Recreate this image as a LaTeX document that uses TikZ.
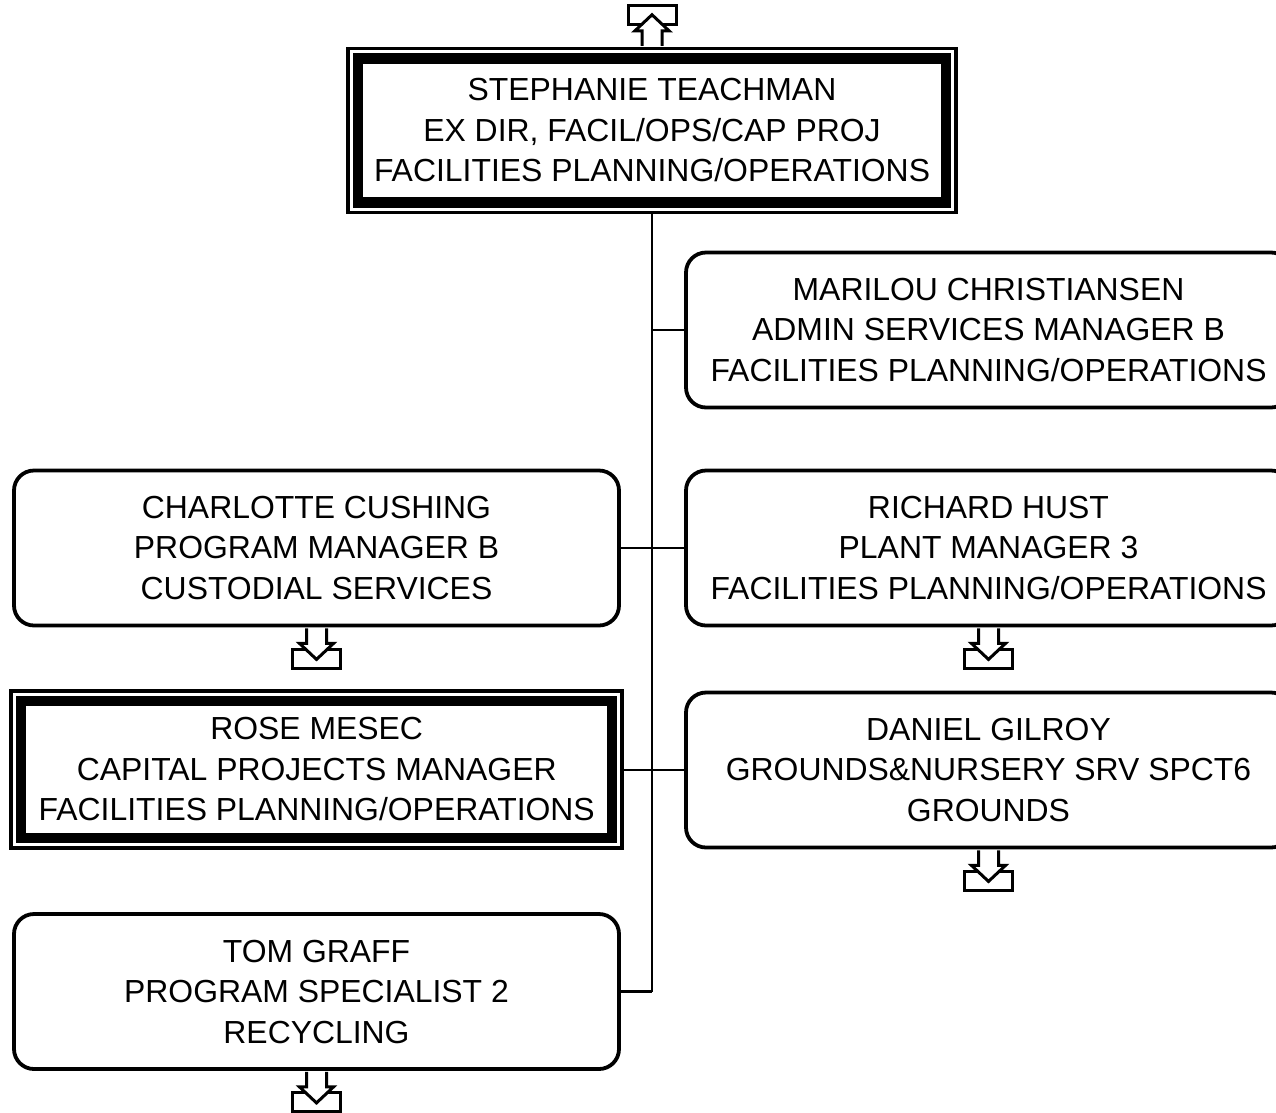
\documentclass[tikz,border=0pt]{standalone}
\usepackage{fontspec}
\setmainfont{Liberation Sans}
\newcommand{\orgfont}{\fontsize{31.9}{40.5}\selectfont}
\begin{document}
\begin{tikzpicture}[x=1pt,y=-1pt,
    person/.style={draw,line width=3.8pt,rounded corners=20pt,minimum width=605pt,
      minimum height=155pt,inner sep=0pt,align=center,font=\orgfont},
    headbox/.style={draw,line width=3.5pt,inner sep=0pt,align=center,font=\orgfont},
    thickframe/.style={line width=10.5pt},
    link/.style={line width=2.5pt},
    iconline/.style={line width=3pt},
    offpage/.pic={
      \draw[iconline] (-24,22) rectangle (24,41);
      \draw[iconline,fill=white] (-10,1) -- (-10,16) -- (-17,16) -- (0,32) -- (17,16) -- (10,16) -- (10,1);
    }]
\useasboundingbox (0,0) rectangle (1276,1112);
\clip (0,0) rectangle (1276,1112);

% boxes with the double frame
\node[headbox,minimum width=608pt,minimum height=164pt] (teachman) at (652,130.5)
  {STEPHANIE TEACHMAN\\EX DIR, FACIL/OPS/CAP PROJ\\FACILITIES PLANNING/OPERATIONS};
\draw[thickframe] ([shift={(11.75pt,-11.75pt)}]teachman.north west) rectangle ([shift={(-11.75pt,11.75pt)}]teachman.south east);

\node[headbox,minimum width=611pt,minimum height=157pt] (mesec) at (316.7,769.5)
  {ROSE MESEC\\CAPITAL PROJECTS MANAGER\\FACILITIES PLANNING/OPERATIONS};
\draw[thickframe] ([shift={(11.75pt,-11.75pt)}]mesec.north west) rectangle ([shift={(-11.75pt,11.75pt)}]mesec.south east);

% rounded boxes
\node[person] (christiansen) at (988.5,330) {MARILOU CHRISTIANSEN\\ADMIN SERVICES MANAGER B\\FACILITIES PLANNING/OPERATIONS};
\node[person] (cushing) at (316.5,548) {CHARLOTTE CUSHING\\PROGRAM MANAGER B\\CUSTODIAL SERVICES};
\node[person] (hust) at (988.5,548) {RICHARD HUST\\PLANT MANAGER 3\\FACILITIES PLANNING/OPERATIONS};
\node[person] (gilroy) at (988.5,770) {DANIEL GILROY\\GROUNDS\&NURSERY SRV SPCT6\\GROUNDS};
\node[person] (graff) at (316.5,991.5) {TOM GRAFF\\PROGRAM SPECIALIST 2\\RECYCLING};

% connectors
\coordinate (trunkend) at (teachman.south |- graff.east);
\draw[link] (teachman.south) -- (trunkend);
\draw[link] (christiansen.west) -- (christiansen.west -| teachman.south);
\draw[link] (cushing.east) -- (hust.west);
\draw[link] (gilroy.west -| mesec.east) -- (gilroy.west);
\draw[link] (graff.east) -- (trunkend);

% off-page markers
\pic[yscale=-1] at (teachman.north) {offpage};
\pic at (cushing.south) {offpage};
\pic at (hust.south) {offpage};
\pic at (gilroy.south) {offpage};
\pic at (graff.south) {offpage};
\end{tikzpicture}
\end{document}
